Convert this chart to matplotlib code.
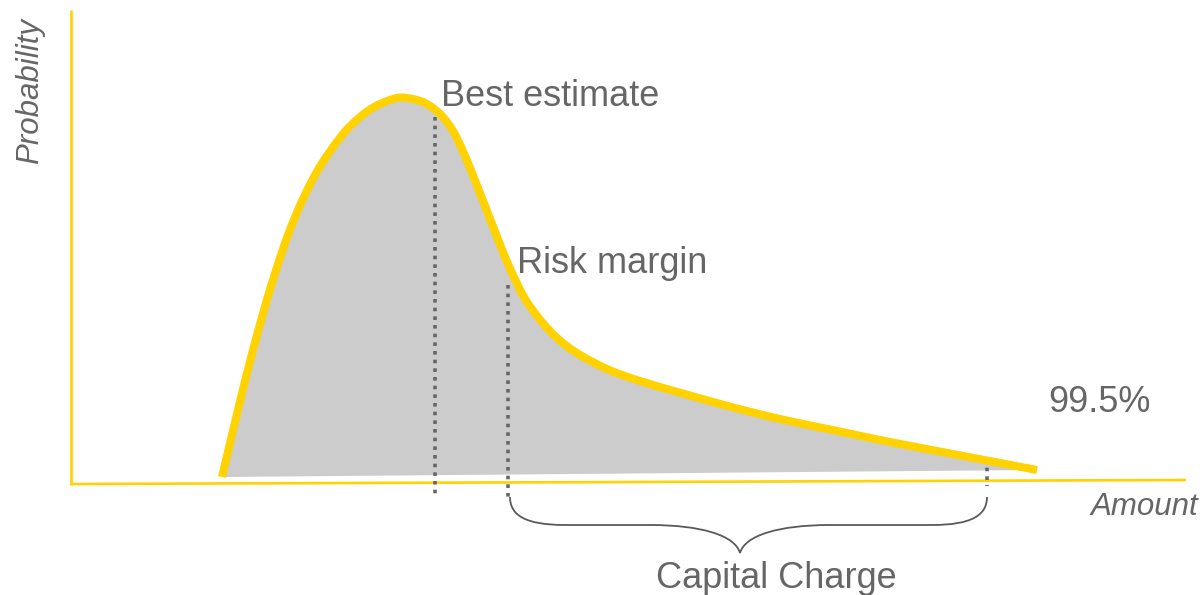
import math
import matplotlib
matplotlib.use("Agg")
import matplotlib.pyplot as plt
from matplotlib.path import Path
from matplotlib.patches import PathPatch

# Loss distribution sketch, in canvas units (x to the right, y downward)
curve_x = [222, 237, 253, 272, 293, 317, 343, 360, 375, 390, 400, 415, 425, 433,
           443, 453, 462, 470, 487, 503, 513, 527, 550, 573, 607, 640, 683, 713,
           747, 780, 813, 847, 880, 937, 987, 1037]
curve_y = [477, 414, 350, 283, 222, 171.5, 134, 117, 106.5, 100, 97.5, 99.5, 103, 108,
           117, 131, 149, 168, 211, 252, 275, 302, 331, 350.5, 369, 381, 393.5, 402,
           411, 419, 426, 433, 440, 451, 460.5, 470]

# Reference points on the amount axis
best_estimate_x = 435
risk_margin_x = 508
var_995_x = 987
marker_top = {"best": 117, "risk": 285, "var": 459}
marker_bottom = {"best": 497, "risk": 497, "var": 486}

labels = {
    "best": "Best estimate",
    "risk": "Risk margin",
    "var": "99.5%",
    "charge": "Capital Charge",
    "x": "Amount",
    "y": "Probability",
}

GOLD = "#FFD200"
GREY_FILL = "#CCCCCC"
TEXT = "#666666"
DOTS = "#666666"

plt.rcParams["font.family"] = ["Liberation Sans", "DejaVu Sans"]

fig = plt.figure(figsize=(12.04, 5.95), dpi=100)
ax = fig.add_axes([0, 0, 1, 1])
ax.set_xlim(0, 1204)
ax.set_ylim(595, 0)
ax.axis("off")


def smooth_path(xs, ys):
    """Chord-length Hermite curve through the points, as cubic Bezier segments."""
    pts = list(zip(xs, ys))
    n = len(pts)
    t = [0.0]
    for i in range(1, n):
        t.append(t[-1] + math.dist(pts[i - 1], pts[i]))

    def tangent(i):
        a = max(i - 1, 0)
        b = min(i + 1, n - 1)
        dt = t[b] - t[a]
        return ((pts[b][0] - pts[a][0]) / dt, (pts[b][1] - pts[a][1]) / dt)

    verts = [pts[0]]
    codes = [Path.MOVETO]
    for i in range(n - 1):
        h = t[i + 1] - t[i]
        m1, m2 = tangent(i), tangent(i + 1)
        c1 = (pts[i][0] + m1[0] * h / 3, pts[i][1] + m1[1] * h / 3)
        c2 = (pts[i + 1][0] - m2[0] * h / 3, pts[i + 1][1] - m2[1] * h / 3)
        verts += [c1, c2, pts[i + 1]]
        codes += [Path.CURVE4] * 3
    return verts, codes


verts, codes = smooth_path(curve_x, curve_y)

# Grey area under the density
fill_verts = verts + [verts[0]]
fill_codes = codes + [Path.LINETO]
ax.add_patch(PathPatch(Path(fill_verts, fill_codes), facecolor=GREY_FILL,
                       edgecolor="none", zorder=1))

# Axes drawn as thin gold lines
ax.plot([71, 71], [10, 485], color=GOLD, lw=1.9, solid_capstyle="butt", zorder=2)
ax.plot([71, 1186], [484, 480], color=GOLD, lw=1.9, solid_capstyle="butt", zorder=2)

# Dotted markers
for key, x in (("best", best_estimate_x), ("risk", risk_margin_x), ("var", var_995_x)):
    ax.plot([x, x], [marker_top[key], marker_bottom[key]], color=DOTS, lw=2.6,
            linestyle=(0, (1.0, 1.4)), dash_capstyle="butt", zorder=3)

# Density curve
ax.add_patch(PathPatch(Path(verts, codes), facecolor="none", edgecolor=GOLD,
                       lw=5.8, capstyle="butt", joinstyle="round", zorder=4))

# Curly brace spanning the capital charge
bx0, bx1, tip = risk_margin_x + 2, var_995_x, 740
top_y, mid_y, tip_y = 497, 525, 553
brace = Path(
    [(bx0, top_y), (bx0, 515), (525, mid_y), (565, mid_y),
     (650, mid_y),
     (700, mid_y), (735, 535), (tip, tip_y),
     (745, 535), (780, mid_y), (830, mid_y),
     (932, mid_y),
     (972, mid_y), (bx1, 515), (bx1, top_y)],
    [Path.MOVETO, Path.CURVE4, Path.CURVE4, Path.CURVE4,
     Path.LINETO,
     Path.CURVE4, Path.CURVE4, Path.CURVE4,
     Path.CURVE4, Path.CURVE4, Path.CURVE4,
     Path.LINETO,
     Path.CURVE4, Path.CURVE4, Path.CURVE4],
)
ax.add_patch(PathPatch(brace, facecolor="none", edgecolor="#5a5a5a", lw=1.3, zorder=3))

# Labels
fs = 26
ax.text(441, 106, labels["best"], color=TEXT, fontsize=fs, ha="left", va="baseline", zorder=5)
ax.text(517, 273, labels["risk"], color=TEXT, fontsize=fs, ha="left", va="baseline", zorder=5)
ax.text(1048, 412, labels["var"], color=TEXT, fontsize=fs, ha="left", va="baseline", zorder=5)
ax.text(776, 588, labels["charge"], color=TEXT, fontsize=fs, ha="center", va="baseline", zorder=5)
ax.text(1198, 515, labels["x"], color=TEXT, fontsize=22.5, style="italic",
        ha="right", va="baseline", zorder=5)
ax.text(38, 91, labels["y"], color=TEXT, fontsize=22.5, style="italic", rotation=90,
        rotation_mode="anchor", ha="center", va="baseline", zorder=5)

fig.savefig("out.png", dpi=100)
